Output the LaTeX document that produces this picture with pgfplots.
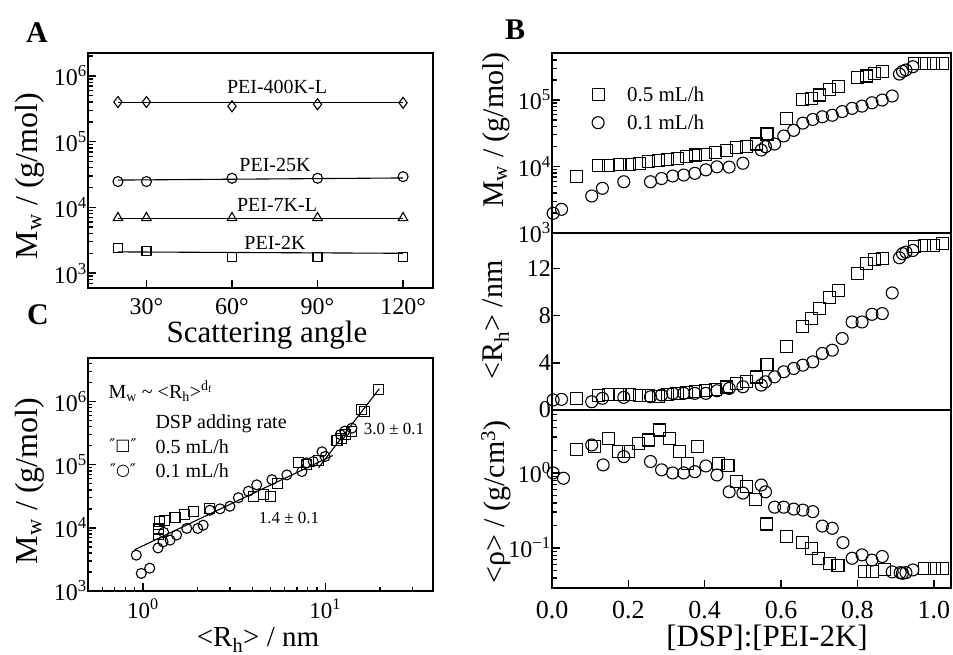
\documentclass[border=0pt]{standalone}
\usepackage{fontspec}
\setmainfont{Liberation Serif}
\newfontfamily\dejavu{DejaVu Sans}
\usepackage{pgfplots}
\pgfplotsset{compat=1.18}
\newcommand{\fs}[1]{\fontsize{#1}{#1}\selectfont}
\pgfplotsset{
 base/.style={scale only axis, anchor=north west,
   axis line style={line width=2.4pt},
   tick style={black, line width=1.4pt},
   major tick length=8pt, minor tick length=4.5pt,
   xtick pos=bottom, ytick pos=left, tick align=inside,
   tick label style={inner sep=1pt},
   y tick label style={font=\fs{24}},
 },
 sq/.style={black, only marks, mark=square, mark size=5pt, mark options={line width=1.1pt}},
 ci/.style={black, only marks, mark=o, mark size=5pt, mark options={line width=1.1pt}},
 fitl/.style={black, line width=1.1pt, no marks},
}
\begin{document}
\begin{tikzpicture}
\useasboundingbox (0pt,0pt) rectangle (953pt,-655pt);
% ---------------- Panel A ----------------
\begin{axis}[base, at={(88pt,-53pt)}, width=345pt, height=235pt,
  xmin=9.5, xmax=130.5, ymode=log, ymin=593, ymax=2.23e6,
  xtick={30,60,90,120}, xticklabels={30°,60°,90°,120°},
  x tick label style={font=\fs{24}, yshift=-9pt},
  ytick={1e3,1e4,1e5,1e6},
  yticklabels={10\textsuperscript{3},10\textsuperscript{4},10\textsuperscript{5},10\textsuperscript{6}},
  minor ytick={700,800,900,2e3,3e3,4e3,5e3,6e3,7e3,8e3,9e3,2e4,3e4,4e4,5e4,6e4,7e4,8e4,9e4,2e5,3e5,4e5,5e5,6e5,7e5,8e5,9e5,2e6}]
\addplot[fitl] coordinates {(20,3.9e5) (120,3.9e5)};
\addplot[black, only marks, mark=diamond, mark size=5.5pt, mark options={line width=1.1pt}] coordinates {(20,4.0e5) (30,4.0e5) (60,3.45e5) (90,3.7e5) (120,3.9e5)};
\addplot[fitl] coordinates {(20,2.6e4) (120,2.8e4)};
\addplot[ci] coordinates {(20,2.47e4) (30,2.47e4) (60,2.77e4) (90,2.77e4) (120,2.93e4)};
\addplot[fitl] coordinates {(20,6.8e3) (120,6.8e3)};
\addplot[black, only marks, mark=triangle, mark size=5.5pt, mark options={line width=1.1pt}] coordinates {(20,6.9e3) (30,6.9e3) (60,6.9e3) (90,6.9e3) (120,6.9e3)};
\addplot[fitl] coordinates {(20,2.1e3) (120,2.0e3)};
\addplot[sq, mark size=4.5pt] coordinates {(20,2.37e3) (30,2.18e3) (60,1.73e3) (90,1.73e3) (120,1.73e3)};
\end{axis}
% ---------------- Panel C ----------------
\begin{axis}[base, at={(88pt,-358pt)}, width=345pt, height=233pt,
  xmode=log, ymode=log, xmin=0.5, xmax=39, ymin=1e3, ymax=4.9e6,
  xtick={1,10}, xticklabels={10\textsuperscript{0},10\textsuperscript{1}},
  minor xtick={0.6,0.7,0.8,0.9,2,3,4,5,6,7,8,9,20,30},
  x tick label style={font=\fs{23}, yshift=-7pt},
  ytick={1e3,1e4,1e5,1e6},
  yticklabels={10\textsuperscript{3},10\textsuperscript{4},10\textsuperscript{5},10\textsuperscript{6}},
  minor ytick={2e3,3e3,4e3,5e3,6e3,7e3,8e3,9e3,2e4,3e4,4e4,5e4,6e4,7e4,8e4,9e4,2e5,3e5,4e5,5e5,6e5,7e5,8e5,9e5,2e6,3e6,4e6}]
\addplot[fitl] coordinates {(0.9,4.5e3) (11,1.4e5)};
\addplot[fitl] coordinates {(9.2,9e4) (19.8,1.6e6)};
\addplot[sq] coordinates {(1.22,7.8e3) (1.22,9.6e3) (1.24,1.26e4) (1.32,1.3e4) (1.50,1.45e4) (1.70,1.65e4) (1.89,1.8e4) (2.33,2.0e4) (4.04,3.1e4) (4.6,3.4e4) (5.0,3.1e4) (5.5,5.1e4) (7.1,1.07e5) (7.9,1.0e5) (9.2,1.15e5) (11.6,2.4e5) (12.3,2.6e5) (12.9,3.0e5) (14.0,3.4e5) (15.8,7.5e5) (16.5,7.0e5) (19.6,1.55e6)};
\addplot[ci] coordinates {(0.92,3.7e3) (0.98,1.9e3) (1.09,2.3e3) (1.21,4.8e3) (1.29,6.0e3) (1.41,6.4e3) (1.53,7.7e3) (1.30,8.5e3) (1.74,9.8e3) (2.0,9.8e3) (2.14,1.1e4) (2.33,1.9e4) (2.65,2.0e4) (3.0,2.2e4) (3.34,3.0e4) (3.79,3.8e4) (4.21,4.8e4) (5.1,5.8e4) (6.16,6.9e4) (7.45,7.8e4) (7.9,1.07e5) (8.6,1.12e5) (9.6,1.6e5) (9.98,1.35e5) (12.1,3.0e5) (12.8,3.4e5) (14.0,3.8e5)};
\end{axis}
% ---------------- Panel B top ----------------
\begin{axis}[base, at={(552pt,-53pt)}, width=399pt, height=180pt,
  xmin=0, xmax=1.045, xtick=\empty, ymode=log, ymin=1e3, ymax=5.1e5,
  ytick={1e3,1e4,1e5},
  yticklabels={10\textsuperscript{3},10\textsuperscript{4},10\textsuperscript{5}},
  minor ytick={2e3,3e3,4e3,5e3,6e3,7e3,8e3,9e3,2e4,3e4,4e4,5e4,6e4,7e4,8e4,9e4,2e5,3e5,4e5,5e5},
  legend style={at={(axis description cs:0.10,0.82)}, anchor=north west, draw=none, fill=none, font=\fs{21}, row sep=10pt, inner sep=0pt, nodes={inner sep=1pt}},
  legend cell align=left]
\addplot[sq, mark size=6pt] coordinates {(0.063,7.0e3) (0.121,1.03e4) (0.147,1.03e4) (0.178,1.06e4) (0.202,1.06e4) (0.228,1.12e4) (0.252,1.18e4) (0.278,1.25e4) (0.302,1.28e4) (0.328,1.33e4) (0.352,1.41e4) (0.376,1.49e4) (0.403,1.54e4) (0.429,1.63e4) (0.457,1.73e4) (0.483,1.94e4) (0.509,2.03e4) (0.535,2.18e4) (0.563,3.08e4) (0.614,5.3e4) (0.655,1.02e5) (0.679,1.06e5) (0.701,1.19e5) (0.727,1.45e5) (0.751,1.58e5) (0.801,2.2e5) (0.823,2.3e5) (0.844,2.5e5) (0.865,2.7e5) (0.949,3.6e5) (0.975,3.6e5) (0.999,3.6e5) (1.023,3.6e5)};
\addlegendentry{\hspace{22pt}0.5 mL/h}
\addplot[ci, mark size=6pt] coordinates {(0.003,1.98e3) (0.025,2.27e3) (0.104,3.6e3) (0.132,4.7e3) (0.188,5.9e3) (0.258,5.9e3) (0.287,6.6e3) (0.316,7.2e3) (0.345,7.45e3) (0.374,7.9e3) (0.403,8.9e3) (0.432,9.9e3) (0.464,9.8e3) (0.500,1.12e4) (0.548,1.77e4) (0.559,1.99e4) (0.583,2.18e4) (0.607,2.88e4) (0.633,3.5e4) (0.657,4.5e4) (0.683,5.1e4) (0.708,5.6e4) (0.734,5.9e4) (0.760,6.7e4) (0.786,7.5e4) (0.812,8.1e4) (0.838,9.1e4) (0.865,1.0e5) (0.891,1.15e5) (0.910,2.46e5) (0.918,2.7e5) (0.927,2.83e5) (0.945,3.17e5)};
\addlegendentry{\hspace{22pt}0.1 mL/h}
\end{axis}
% ---------------- Panel B middle ----------------
\begin{axis}[base, at={(552pt,-233pt)}, width=399pt, height=177pt,
  xmin=0, xmax=1.045, xtick=\empty, ymin=0, ymax=15,
  ytick={0,4,8,12}, yticklabels={0,4,8,12}]
\addplot[sq, mark size=6pt] coordinates {(0.063,0.99) (0.121,1.25) (0.147,1.35) (0.178,1.35) (0.202,1.3) (0.228,1.2) (0.252,1.2) (0.278,1.15) (0.302,1.3) (0.328,1.4) (0.352,1.5) (0.376,1.55) (0.403,1.65) (0.429,1.75) (0.457,1.95) (0.483,2.25) (0.509,2.4) (0.535,2.8) (0.563,3.89) (0.614,5.41) (0.655,7.04) (0.679,7.75) (0.701,8.6) (0.727,9.53) (0.751,10.14) (0.801,11.56) (0.823,12.4) (0.844,12.72) (0.865,12.82) (0.949,13.86) (0.975,13.95) (0.999,13.95) (1.023,14.12)};
\addplot[ci, mark size=6pt] coordinates {(0.003,0.85) (0.025,0.9) (0.104,0.70) (0.132,0.99) (0.188,1.07) (0.258,1.12) (0.287,1.27) (0.316,1.41) (0.345,1.41) (0.374,1.41) (0.403,1.41) (0.432,1.63) (0.464,1.83) (0.500,1.97) (0.548,2.11) (0.559,2.39) (0.583,2.81) (0.607,3.24) (0.633,3.52) (0.657,3.80) (0.683,4.08) (0.708,4.79) (0.734,5.07) (0.760,6.06) (0.786,7.46) (0.812,7.46) (0.838,8.11) (0.865,8.17) (0.891,9.92) (0.910,12.9) (0.918,13.25) (0.927,13.38) (0.945,13.52)};
\end{axis}
% ---------------- Panel B bottom ----------------
\begin{axis}[base, at={(552pt,-410pt)}, width=399pt, height=178pt,
  xmin=0, xmax=1.045, xtick={0,0.2,0.4,0.6,0.8,1.0},
  xticklabels={0.0,0.2,0.4,0.6,0.8,1.0},
  x tick label style={font=\fs{26}, yshift=-12pt},
  ymode=log, ymin=0.0293, ymax=6.9,
  ytick={0.1,1}, yticklabels={10\textsuperscript{−1},10\textsuperscript{0}},
  minor ytick={0.03,0.04,0.05,0.06,0.07,0.08,0.09,0.2,0.3,0.4,0.5,0.6,0.7,0.8,0.9,2,3,4,5,6}]
\addplot[sq, mark size=6pt] coordinates {(0.063,2.03) (0.112,2.24) (0.147,2.9) (0.173,1.92) (0.200,1.92) (0.226,2.49) (0.252,2.75) (0.281,3.74) (0.307,2.9) (0.333,1.92) (0.356,1.35) (0.382,2.24) (0.435,1.35) (0.461,1.24) (0.483,0.77) (0.509,0.66) (0.533,0.44) (0.561,0.209) (0.614,0.142) (0.655,0.118) (0.679,0.099) (0.699,0.073) (0.727,0.0625) (0.749,0.059) (0.818,0.048) (0.840,0.048) (0.871,0.051) (0.975,0.0536) (1.001,0.0536) (1.023,0.0536)};
\addplot[ci, mark size=6pt] coordinates {(0.003,1.0) (0.030,0.85) (0.104,2.36) (0.134,1.28) (0.188,1.65) (0.258,1.42) (0.287,1.1) (0.316,1.0) (0.345,1.0) (0.374,1.04) (0.403,1.24) (0.432,0.94) (0.464,0.56) (0.500,0.54) (0.548,0.69) (0.559,0.56) (0.583,0.35) (0.607,0.35) (0.633,0.33) (0.657,0.32) (0.683,0.305) (0.708,0.196) (0.734,0.183) (0.762,0.118) (0.786,0.073) (0.812,0.081) (0.838,0.069) (0.865,0.077) (0.891,0.048) (0.912,0.047) (0.918,0.046) (0.927,0.047) (0.945,0.051)};
\end{axis}
% ---------------- Texts ----------------
\node[font=\bfseries\fs{30}] at (37pt,-33pt) {A};
\node[font=\bfseries\fs{30}] at (515pt,-30pt) {B};
\node[font=\bfseries\fs{30}] at (38pt,-315pt) {C};
\node[font=\fs{20}] at (277pt,-87pt) {PEI-400K-L};
\node[font=\fs{20}] at (275pt,-165pt) {PEI-25K};
\node[font=\fs{20}] at (277pt,-205pt) {PEI-7K-L};
\node[font=\fs{20}] at (275pt,-243pt) {PEI-2K};
\node[font=\fs{31}] at (267pt,-335pt) {Scattering angle};
\node[font=\fs{32}, rotate=90] at (30pt,-176pt) {M\textsubscript{w} / (g/mol)};
\node[font=\fs{32}, rotate=90] at (30pt,-481pt) {M\textsubscript{w} / (g/mol)};
\node[font=\fs{29}] at (258pt,-640pt) {<R\textsubscript{h}> / nm};
\node[font=\fs{20}, anchor=base west] at (105pt,-398pt) {M\textsubscript{w} \textasciitilde{} <R\textsubscript{h}>\textsuperscript{d\textsubscript{f}}};
\node[font=\fs{20}, anchor=base west] at (152pt,-428pt) {DSP adding rate};
\node[font=\fs{16}] at (123pt,-446pt) {{\dejavu ″□″}};
\node[font=\fs{16}] at (123pt,-471pt) {{\dejavu ″○″}};
\node[font=\fs{20}, anchor=base west] at (152pt,-453pt) {0.5 mL/h};
\node[font=\fs{20}, anchor=base west] at (152pt,-477pt) {0.1 mL/h};
\node[font=\fs{17}] at (289pt,-518pt) {1.4 ± 0.1};
\node[font=\fs{17}] at (394pt,-429pt) {3.0 ± 0.1};
\node[font=\fs{31}] at (767pt,-638pt) {[DSP]:[PEI-2K]};
\node[font=\fs{30}, rotate=90] at (496pt,-130pt) {M\textsubscript{w} / (g/mol)};
\node[font=\fs{30}, rotate=90] at (496pt,-320pt) {<R\textsubscript{h}> /nm};
\node[font=\fs{30}, rotate=90] at (496pt,-502pt) {<ρ> / (g/cm\textsuperscript{3})};
\end{tikzpicture}
\end{document}
